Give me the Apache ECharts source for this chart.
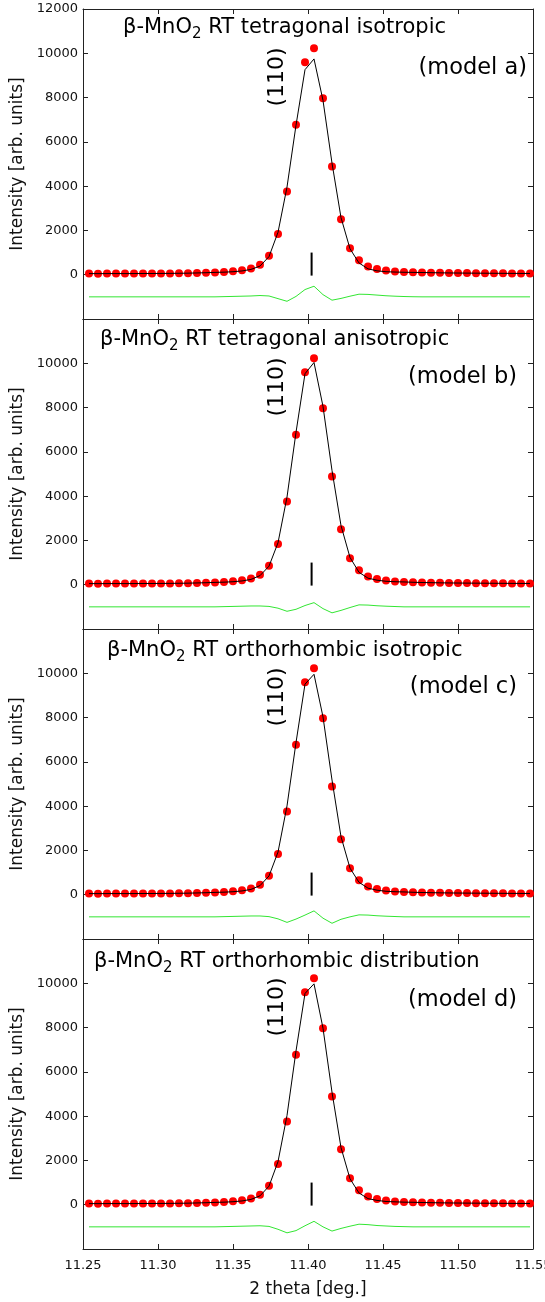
<!DOCTYPE html>
<html>
<head>
<meta charset="utf-8">
<script src="https://cdn.jsdelivr.net/npm/echarts@6/dist/echarts.min.js"></script>
<style>
  html, body { margin: 0; padding: 0; background: #fff; }
  #chart { width: 545px; height: 1302px; }
</style>
</head>
<body>
<div id="chart"></div>
<script>
// Measured 2-theta positions (deg.)
const twoTheta = [
  11.254, 11.260, 11.266, 11.272, 11.278, 11.284, 11.290, 11.296, 11.302, 11.308,
  11.314, 11.320, 11.326, 11.332, 11.338, 11.344, 11.350, 11.356, 11.362, 11.368,
  11.374, 11.380, 11.386, 11.392, 11.398, 11.404, 11.410, 11.416, 11.422, 11.428,
  11.434, 11.440, 11.446, 11.452, 11.458, 11.464, 11.470, 11.476, 11.482, 11.488,
  11.494, 11.500, 11.506, 11.512, 11.518, 11.524, 11.530, 11.536, 11.542, 11.548
];

// Observed intensity (same pattern in every panel)
const observed = [
  50, 48, 50, 52, 50, 52, 55, 55, 58, 60,
  65, 70, 80, 90, 105, 125, 155, 200, 280, 450,
  857, 1835, 3760, 6770, 9590, 10225, 7970, 4890, 2510, 1200,
  650, 375, 255, 185, 150, 125, 110, 100, 92, 85,
  80, 76, 72, 70, 68, 65, 62, 60, 58, 56
];

// Calculated profiles of the four models
const calcA = [
  50, 48, 50, 52, 50, 52, 55, 55, 58, 60,
  65, 70, 80, 90, 105, 115, 135, 170, 240, 390,
  817, 1915, 3960, 6750, 9260, 9745, 7870, 5040, 2580, 1170,
  530, 265, 175, 135, 120, 110, 105, 100, 92, 85,
  80, 76, 72, 70, 68, 65, 62, 60, 58, 56
];
const calcB = [
  50, 48, 50, 52, 50, 52, 55, 55, 58, 60,
  65, 70, 80, 90, 105, 115, 135, 170, 240, 410,
  837, 1895, 3960, 6880, 9530, 10035, 8050, 5160, 2670, 1230,
  560, 295, 205, 155, 135, 125, 110, 100, 92, 85,
  80, 76, 72, 70, 68, 65, 62, 60, 58, 56
];
const calcC = [
  50, 48, 50, 52, 50, 52, 55, 55, 58, 60,
  65, 70, 80, 90, 105, 115, 135, 170, 240, 410,
  847, 1925, 4010, 6870, 9510, 9955, 8030, 5180, 2620, 1200,
  560, 295, 205, 155, 135, 125, 110, 100, 92, 85,
  80, 76, 72, 70, 68, 65, 62, 60, 58, 56
];
const calcD = [
  50, 48, 50, 52, 50, 52, 55, 55, 58, 60,
  65, 70, 80, 90, 105, 115, 135, 170, 240, 400,
  837, 1945, 4030, 6940, 9540, 9975, 7970, 5080, 2580, 1170,
  530, 275, 195, 145, 130, 115, 110, 100, 92, 85,
  80, 76, 72, 70, 68, 65, 62, 60, 58, 56
];

const calcProfiles = [calcA, calcB, calcC, calcD];
const phaseNames = ['tetragonal isotropic', 'tetragonal anisotropic', 'orthorhombic isotropic', 'orthorhombic distribution'];
const modelNames = ['(model a)', '(model b)', '(model c)', '(model d)'];
const reflectionLabel = '(110)';
const reflectionPos = 11.4024;        // Bragg position of (110)
const reflectionMark = [-40, 1000];   // vertical extent of the tick mark
const diffOffset = -1000;             // difference curve baseline

const xRange = { min: 11.25, max: 11.55, step: 0.05 };
const yRange = { min: -2000, max: 12000, step: 2000 };

// Layout
const FONT = 'DejaVu Sans';
const plotLeft = 83, plotWidth = 450, panelHeight = 310;
const panelTops = [9, 319, 629, 939];
const titleLeft = [123, 100, 107, 94];
const titleDy = [19, 21, 22, 23];
const modelRight = [527, 517, 517, 517];
const modelDy = [59, 58, 58, 61];
const axisColor = '#222';

const chart = echarts.init(document.getElementById('chart'), null, { renderer: 'canvas' });

const grids = [], xAxes = [], yAxes = [], series = [], graphics = [];
const last = panelTops.length - 1;

panelTops.forEach((top, p) => {
  grids.push({
    left: plotLeft, top: top, width: plotWidth, height: panelHeight,
    containLabel: false, outerBoundsMode: 'none'
  });

  const xCommon = {
    gridIndex: p, type: 'value', min: xRange.min, max: xRange.max, interval: xRange.step,
    axisLine: { show: true, onZero: false, lineStyle: { color: axisColor, width: 1 } },
    axisTick: { show: true, inside: true, length: 5, lineStyle: { color: axisColor } },
    splitLine: { show: false }
  };
  xAxes.push(Object.assign({}, xCommon, {
    position: 'bottom',
    axisLabel: {
      show: p === last, color: '#111', fontFamily: FONT, fontSize: 13, margin: 10,
      showMinLabel: true, showMaxLabel: true,
      formatter: v => v.toFixed(2)
    },
    name: p === last ? '2 theta [deg.]' : '',
    nameLocation: 'middle', nameGap: 32,
    nameTextStyle: { color: '#111', fontFamily: FONT, fontSize: 17 }
  }));
  xAxes.push(Object.assign({}, xCommon, { position: 'top', axisLabel: { show: false } }));

  const yCommon = {
    gridIndex: p, type: 'value', min: yRange.min, max: yRange.max, interval: yRange.step,
    axisLine: { show: true, onZero: false, lineStyle: { color: axisColor, width: 1 } },
    axisTick: { show: true, inside: true, length: 5, lineStyle: { color: axisColor } },
    splitLine: { show: false }
  };
  yAxes.push(Object.assign({}, yCommon, {
    position: 'left',
    axisLabel: {
      show: true, color: '#111', fontFamily: FONT, fontSize: 13, margin: 5,
      showMinLabel: true, showMaxLabel: true,
      formatter: v => (v < 0 || (v >= yRange.max && p !== 0)) ? '' : String(v)
    },
    name: 'Intensity [arb. units]', nameLocation: 'middle', nameGap: 53,
    nameTextStyle: { color: '#111', fontFamily: FONT, fontSize: 17 }
  }));
  yAxes.push(Object.assign({}, yCommon, { position: 'right', axisLabel: { show: false } }));

  const calc = calcProfiles[p];
  const xi = 2 * p, yi = 2 * p;

  series.push({
    type: 'scatter', xAxisIndex: xi, yAxisIndex: yi, z: 2,
    symbol: 'circle', symbolSize: 8,
    itemStyle: { color: '#ff0000', opacity: 1 },
    data: twoTheta.map((x, i) => [x, observed[i]])
  });
  series.push({
    type: 'line', xAxisIndex: xi, yAxisIndex: yi, z: 3,
    showSymbol: false, symbol: 'none',
    lineStyle: { color: '#000', width: 1 },
    data: twoTheta.map((x, i) => [x, calc[i]])
  });
  series.push({
    type: 'line', xAxisIndex: xi, yAxisIndex: yi, z: 3,
    showSymbol: false, symbol: 'none',
    lineStyle: { color: '#33e633', width: 1 },
    data: twoTheta.map((x, i) => [x, observed[i] - calc[i] + diffOffset])
  });
  series.push({
    type: 'line', xAxisIndex: xi, yAxisIndex: yi, z: 3,
    showSymbol: false, symbol: 'none',
    lineStyle: { color: '#000', width: 2 },
    data: reflectionMark.map(v => [reflectionPos, v])
  });

  graphics.push({
    type: 'text', x: titleLeft[p], y: top + titleDy[p], z: 10,
    style: {
      text: '{m|β-MnO}{s|2}{m| RT ' + phaseNames[p] + '}',
      verticalAlign: 'middle', align: 'left',
      rich: {
        m: { fontFamily: FONT, fontSize: 21, color: '#000', lineHeight: 28, verticalAlign: 'middle' },
        s: { fontFamily: FONT, fontSize: 15, color: '#000', lineHeight: 28, verticalAlign: 'bottom', padding: [10, 0, 0, 0] }
      }
    }
  });
  graphics.push({
    type: 'text', x: modelRight[p], y: top + modelDy[p], z: 10,
    style: {
      text: modelNames[p], align: 'right', verticalAlign: 'middle',
      fontFamily: FONT, fontSize: 22.5, fill: '#000'
    }
  });
  graphics.push({
    type: 'text', x: 277, y: top + 68, rotation: Math.PI / 2, z: 10,
    style: {
      text: reflectionLabel, align: 'center', verticalAlign: 'middle',
      fontFamily: FONT, fontSize: 22, fill: '#000'
    }
  });
});

chart.setOption({
  animation: false,
  backgroundColor: '#fff',
  grid: grids,
  xAxis: xAxes,
  yAxis: yAxes,
  series: series,
  graphic: graphics
});
</script>
</body>
</html>
